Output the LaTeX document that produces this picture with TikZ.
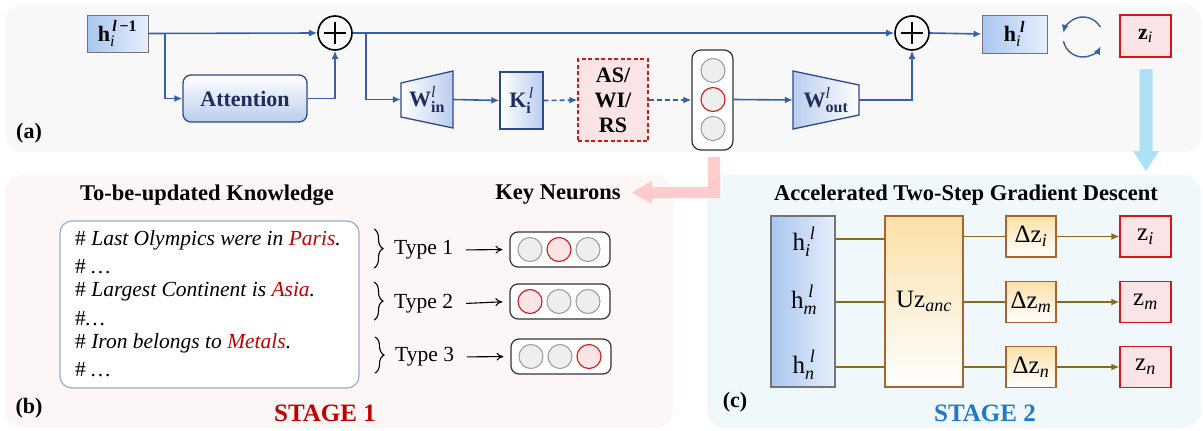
\documentclass[tikz,border=0pt]{standalone}
\usepackage{amsmath}
\usepackage{fontspec}
\setmainfont{Liberation Serif}
\usetikzlibrary{arrows.meta,decorations.pathreplacing,calc}
\newcommand{\ssz}[1]{\mbox{\fontsize{16}{16}\selectfont #1}}
\newcommand{\ssy}[1]{\mbox{\fontsize{18}{18}\selectfont #1}}
\definecolor{conn}{HTML}{3760A8}
\definecolor{navyd}{HTML}{2A4A8A}
\definecolor{navytext}{HTML}{1F2D5A}
\definecolor{bgA}{HTML}{F8F8F8}
\definecolor{bgB}{HTML}{FDF6F6}
\definecolor{bgC}{HTML}{F1F8FC}
\definecolor{hblue}{HTML}{A9C6EF}
\definecolor{hlight}{HTML}{E6EFFC}
\definecolor{kblue}{HTML}{B9CDEE}
\definecolor{redb}{HTML}{D01818}
\definecolor{pinkf}{HTML}{FBE4E6}
\definecolor{neurg}{HTML}{EEEEEE}
\definecolor{neurb}{HTML}{9A9A9A}
\definecolor{brn}{HTML}{8A6A14}
\definecolor{orb}{HTML}{A8662A}
\definecolor{ory}{HTML}{FBE0A8}
\definecolor{stageA}{HTML}{C00000}
\definecolor{stageB}{HTML}{1F7BC4}
\definecolor{skyarr}{HTML}{ADE2F5}
\definecolor{pinkarr}{HTML}{FFC4C6}
\definecolor{kbord}{HTML}{A0AAC4}
\begin{document}
\begin{tikzpicture}[x=1pt,y=-1pt,
  every node/.style={font=\fontsize{22}{26}\selectfont, inner sep=0pt},
  conn/.style={draw=conn, line width=1.6pt, -{Latex[length=8pt,width=7pt]}},
  dconn/.style={conn, dash pattern=on 5pt off 3pt},
  hbox/.style={draw=black!55, line width=1pt, left color=hblue, right color=hlight, minimum width=61pt, minimum height=37pt},
  navybox/.style={draw=navyd, line width=1.3pt},
  pluscirc/.style={circle, draw=black, line width=1.6pt, minimum size=34pt},
  neuron/.style={circle, draw=neurb, fill=neurg, line width=1pt, minimum size=24pt},
  rneuron/.style={circle, draw=redb, line width=1.1pt, minimum size=24pt},
  capsule/.style={draw=black!80, rounded corners=8pt, line width=1.2pt, fill=white},
  zbox/.style={draw=redb, line width=1.2pt, fill=pinkf, minimum width=51pt, minimum height=41pt},
  dbox/.style={draw=orb, line width=1.2pt, top color=ory, bottom color=white, minimum width=50pt, minimum height=41pt},
  bline/.style={draw=brn, line width=1.8pt},
  barr/.style={bline, -{Latex[length=8pt,width=7pt]}},
  tarr/.style={draw=black, line width=1.1pt, -{To[length=7pt,width=8pt]}, shorten <=13pt, shorten >=7pt},
  brc/.style={draw=black, line width=1.1pt, decorate, decoration={brace, amplitude=9pt}},
  ttl/.style={font=\fontsize{22.5}{26}\selectfont\bfseries},
  lab/.style={font=\fontsize{22}{26}\selectfont\bfseries},
  ktext/.style={anchor=west, font=\fontsize{21.5}{25}\selectfont},
  clab/.style={font=\fontsize{25}{28}\selectfont},
]
\useasboundingbox (0,0) rectangle (1203,431);
% panels
\fill[bgA, rounded corners=18pt] (5,4) rectangle (1201,152);
\fill[bgB, rounded corners=18pt] (5,175) rectangle (673,428);
\fill[bgC, rounded corners=18pt] (707,175) rectangle (1201,428);

% ---------- panel (a)
\node[hbox] (hprev) at (117.5,33.5) {$\textbf{h}_{\ssz{\itshape i}}^{\,\ssz{\textbf{\textit{l}}\,\textbf{−1}}}$};
\node[pluscirc] (p1) at (335,33) {};
\draw[line width=1.6pt] ($(p1.center)+(-11,0)$) -- ($(p1.center)+(11,0)$) ($(p1.center)+(0,-11)$) -- ($(p1.center)+(0,11)$);
\node[pluscirc] (p2) at (912,33) {};
\draw[line width=1.6pt] ($(p2.center)+(-11,0)$) -- ($(p2.center)+(11,0)$) ($(p2.center)+(0,-11)$) -- ($(p2.center)+(0,11)$);
\node[navybox, rounded corners=8pt, top color=white, bottom color=kblue, minimum width=124pt, minimum height=47pt, text=navytext, font=\fontsize{22}{26}\selectfont\bfseries] (att) at (245,98.5) {Attention};
% W_in trapezoid
\draw[navybox, left color=white, right color=kblue] (401,83) -- (453,71) -- (453,128) -- (401,117) -- cycle;
\node[minimum width=52pt, minimum height=57pt, text=navytext] (win) at (427,99.5) {$\textbf{W}^{\ssz{\itshape l}}_{\ssz{\bfseries in}}$};
\node[navybox, left color=white, right color=kblue, minimum width=43pt, minimum height=57pt, text=navytext] (kk) at (521.5,100.5) {$\textbf{K}_{\ssz{\bfseries i}}^{\,\ssz{\itshape l}}$};
\node[draw=redb, line width=1.2pt, dash pattern=on 4pt off 2.5pt, fill=pinkf, minimum width=70pt, minimum height=82pt, align=center, font=\fontsize{22}{25}\selectfont\bfseries] (as) at (613,100) {AS/\\WI/\\RS};
\node[capsule, minimum width=41pt, minimum height=100pt, rounded corners=9pt] (cap) at (712.5,100) {};
\node[neuron] (n1) at (713,70.5) {};
\node[rneuron, fill=neurg] (n2) at (713,99.5) {};
\node[neuron] (n3) at (713,128.5) {};
% W_out trapezoid
\draw[navybox, left color=kblue, right color=white] (793,71) -- (859,85) -- (859,115) -- (793,129) -- cycle;
\node[minimum width=66pt, minimum height=58pt, text=navytext] (wout) at (826,100) {$\textbf{W}^{\ssz{\itshape l}}_{\ssz{\bfseries out}}$};
\node[hbox, minimum width=65pt, minimum height=38pt] (hl) at (1014.5,34) {$\textbf{h}_{\ssz{\itshape i}}^{\;\ssz{\bfseries\itshape l}}$};
\node[zbox, minimum height=42pt] (zi) at (1145.5,36) {$\textbf{z}_{\ssz{\itshape i}}$};
\coordinate (b1) at (165,33);
\coordinate (b2) at (366,33);
\draw[conn] (hprev.east) -- (p1.west);
\draw[conn] (b1) |- (att.west);
\draw[conn] (att.east) -| (p1.south);
\draw[conn] (p1.east) -- (p2.west);
\draw[conn] (b2) |- (win.west);
\draw[conn] (win.east) -- (kk.west);
\draw[dconn] (kk.east) -- (as.west);
\draw[dconn] (as.east) -- (cap.west);
\draw[conn] (cap.east |- n2) -- (wout.west);
\draw[conn] (wout.east) -| (p2.south);
\draw[conn] (p2.east) -- (hl.west);
% swap arrows
\coordinate (sw) at (1083,37);
\draw[conn, line width=1.4pt] ($(sw)+(-30:20)$) arc[start angle=-30, end angle=-168, radius=20];
\draw[conn, line width=1.4pt] ($(sw)+(-192:20)$) arc[start angle=-192, end angle=-332, radius=20];
\node[lab] (la) at (29,133) {(a)};

% big arrows
\fill[skyarr] (1139.5,69) -- (1152.5,69) -- (1152.5,151) -- (1159,151) -- (1146,171) -- (1133,151) -- (1139.5,151) -- cycle;
\fill[pinkarr, opacity=0.85] (708,157) -- (720,157) -- (720,198) -- (652,198) -- (652,204) -- (632,192.5) -- (652,181) -- (652,187) -- (708,187) -- cycle;

% ---------- panel (b)
\node[ttl] (t1title) at (207,195) {To-be-updated Knowledge};
\node[ttl] (kn) at (558,195) {Key Neurons};
\node[draw=kbord, line width=1.2pt, fill=white, rounded corners=12pt, minimum width=299pt, minimum height=167pt] (kb) at (209.5,304.5) {};
\node[ktext] (k1) at (75,240) {\# \textit{Last Olympics were in \textcolor{stageA}{Paris}.}};
\node[ktext] (k2) at (75,267) {\# \textit{…}};
\node[ktext] (k3) at (75,292) {\# \textit{Largest Continent is \textcolor{stageA}{Asia}.}};
\node[ktext] (k4) at (75,319) {\#\textit{…}};
\node[ktext] (k5) at (75,343) {\# \textit{Iron belongs to \textcolor{stageA}{Metals}.}};
\node[ktext] (k6) at (75,370) {\# \textit{…}};
\draw[brc] (374,229) -- (374,268);
\draw[brc] (374,282) -- (374,320);
\draw[brc] (375,337) -- (375,373);
\node[anchor=west, font=\fontsize{21.5}{25}\selectfont] (ty1) at (394,250) {Type 1};
\node[anchor=west, font=\fontsize{21.5}{25}\selectfont] (ty2) at (394,304) {Type 2};
\node[anchor=west, font=\fontsize{21.5}{25}\selectfont] (ty3) at (395,357) {Type 3};
\node[capsule, minimum width=100pt, minimum height=35pt] (c1) at (560,249.5) {};
\node[capsule, minimum width=100pt, minimum height=35pt] (c2) at (560,301.5) {};
\node[capsule, minimum width=100pt, minimum height=35pt] (c3) at (561,356.5) {};
\draw[tarr] (ty1.east) -- (c1.west);
\draw[tarr] (ty2.east) -- (c2.west);
\draw[tarr] (ty3.east) -- (c3.west);
\node[neuron] (a1) at (530,249.5) {};
\node[rneuron, fill=pinkf] (a2) at (559,249.5) {};
\node[neuron] (a3) at (588,249.5) {};
\node[rneuron, fill=pinkf] (b1n) at (530,301.5) {};
\node[neuron] (b2n) at (559,301.5) {};
\node[neuron] (b3n) at (588,301.5) {};
\node[neuron] (c1n) at (531,356.5) {};
\node[neuron] (c2n) at (560,356.5) {};
\node[rneuron, fill=pinkf] (c3n) at (589,356.5) {};
\node[lab] (lb) at (29,408) {(b)};
\node[font=\fontsize{25}{28}\selectfont\bfseries, text=stageA] (s1) at (325,413) {STAGE 1};

% ---------- panel (c)
\node[ttl] (t2title) at (966,195) {Accelerated Two-Step Gradient Descent};
\node[draw=black!55, line width=1.2pt, left color=hblue, right color=hlight, minimum width=64pt, minimum height=171pt] (hcol) at (803,301.5) {};
\node[clab] (hi) at (804,242) {$\text{h}_{\ssy{\itshape i}}^{\;\ssy{\itshape l}}$};
\node[clab] (hm) at (804,300) {$\text{h}_{\ssy{\itshape m}}^{\;\ssy{\itshape l}}$};
\node[clab] (hn) at (804,365) {$\text{h}_{\ssy{\itshape n}}^{\;\ssy{\itshape l}}$};
\node[clab, draw=orb, line width=1.2pt, top color=ory, bottom color=white, minimum width=78pt, minimum height=171pt] (uz) at (924,301.5) {$\text{Uz}_{\ssy{\itshape anc}}$};
\node[dbox, clab] (d1) at (1031,236.5) {$\text{Δz}_{\ssy{\itshape i}}$};
\node[dbox, clab] (d2) at (1031,302) {$\text{Δz}_{\ssy{\itshape m}}$};
\node[dbox, clab] (d3) at (1031,367) {$\text{Δz}_{\ssy{\itshape n}}$};
\node[zbox, clab] (z1) at (1145.5,236.5) {$\text{z}_{\ssy{\itshape i}}$};
\node[zbox, clab] (z2) at (1145.5,302) {$\text{z}_{\ssy{\itshape m}}$};
\node[zbox, clab] (z3) at (1145.5,367) {$\text{z}_{\ssy{\itshape n}}$};
\draw[bline] (hcol.east |- 0,239) -- (uz.west |- 0,239);
\draw[bline] (hcol.east |- d2) -- (uz.west |- d2);
\draw[bline] (hcol.east |- d3) -- (uz.west |- d3);
\draw[bline] (uz.east |- d1) -- (d1.west);
\draw[bline] (uz.east |- d2) -- (d2.west);
\draw[bline] (uz.east |- d3) -- (d3.west);
\draw[barr] (d1.east) -- (z1.west);
\draw[barr] (d2.east) -- (z2.west);
\draw[barr] (d3.east) -- (z3.west);
\node[lab] (lc) at (735,402) {(c)};
\node[font=\fontsize{25}{28}\selectfont\bfseries, text=stageB] (s2) at (985,413) {STAGE 2};
\end{tikzpicture}
\end{document}
